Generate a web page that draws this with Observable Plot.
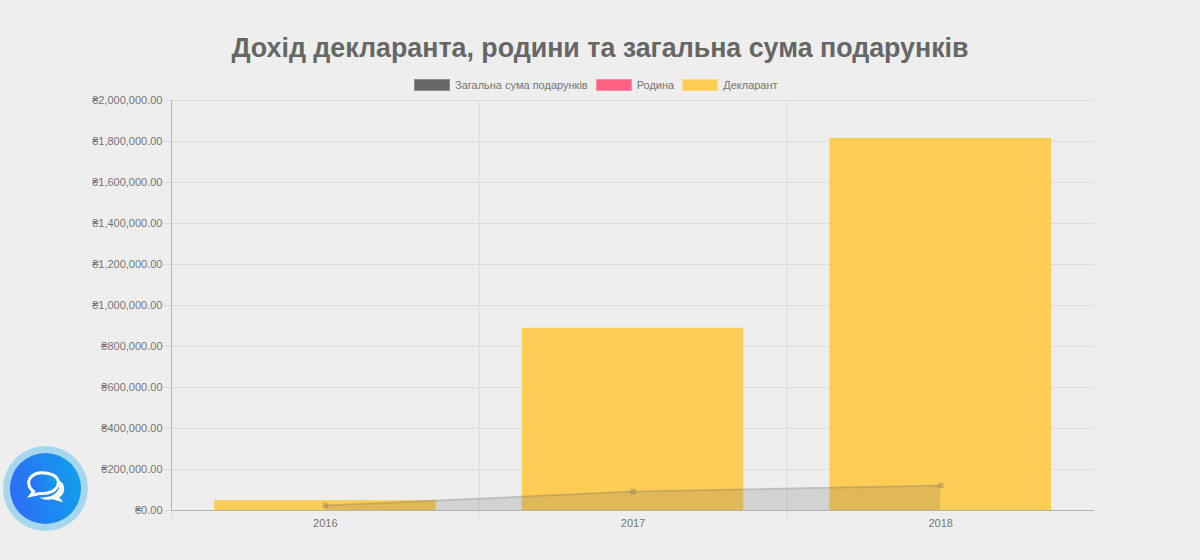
<!DOCTYPE html>
<html><head><meta charset="utf-8">
<script src="https://cdn.jsdelivr.net/npm/d3@7"></script>
<script src="https://cdn.jsdelivr.net/npm/@observablehq/plot@0.6"></script>
<style>
html,body{margin:0;padding:0;background:#eeeeee;width:1200px;height:560px;overflow:hidden;font-family:"Liberation Sans",Arial,sans-serif}
#title{position:absolute;left:0;top:32px;width:1200px;text-align:center;font-size:26.8px;font-weight:bold;color:#666;line-height:32px}
#legend{position:absolute;left:414px;top:77px;height:16px;display:flex;align-items:center;font-size:11px;color:#757575;white-space:nowrap}
#legend i{display:inline-block;width:36px;height:12px;margin-right:5px;box-sizing:border-box;border:1px solid rgba(255,255,255,.25)}
#legend span{margin-right:8px}
#chart{position:absolute;left:0;top:92px}
#chat{position:absolute;left:3px;top:446px}
</style></head>
<body>
<div id="title"></div>
<div id="legend"></div>
<div id="chart"></div>
<svg id="chat" width="85" height="85" viewBox="0 0 86 86">
<defs><linearGradient id="g" x1="0" x2="1" y1="0.3" y2="0.1"><stop offset="0" stop-color="#2b6ff6"/><stop offset="1" stop-color="#10a2ea"/></linearGradient></defs>
<circle cx="43" cy="43" r="43" fill="#a7d6ef"/>
<circle cx="43" cy="43" r="36" fill="url(#g)"/>
<path d="M52 33c6 2 10 5 10 10 0 4-2 7-5 9l4 5-11-3c-5 1-10 0-13-2 9 1 19-3 20-11 0-3-2-6-5-8z" fill="#fff"/>
<path d="M39 27c-8 0-13 5-13 10 0 4 2 7 5 9l-3 4 9-2c9 1 19-3 19-11 0-6-7-10-17-10z" fill="url(#g)" stroke="#fff" stroke-width="3"/>
</svg>
<script>
const titleText = "Дохід декларанта, родини та загальна сума подарунків";
const seriesNames = ["Загальна сума подарунків", "Родина", "Декларант"];
const seriesColors = ["#666666", "#ff6384", "#ffcd56"];
const years = [2016, 2017, 2018];
const declarant = [48000, 889000, 1815000];
const family = [0, 0, 0];
const gifts = [24000, 92500, 122000];
const yTicks = [0,200000,400000,600000,800000,1000000,1200000,1400000,1600000,1800000,2000000];
const xEdges = [2015.5, 2016.5, 2017.5, 2018.5];
const xLines = xEdges.slice(0, 3);
const barHalf = 0.36;

document.getElementById("title").textContent = titleText;
const leg = document.getElementById("legend");
seriesNames.forEach((n,k)=>{
  const i=document.createElement("i"); i.style.background=seriesColors[k]; leg.appendChild(i);
  const s=document.createElement("span"); s.textContent=n; leg.appendChild(s);
});

const rows = years.map((year,k)=>({year, declarant:declarant[k], family:family[k], gifts:gifts[k]}));
const money = v => "₴" + d3.format(",.2f")(v);
const gridColor = "#dcdcdc";

const plot = Plot.plot({
  width:1200, height:448,
  marginTop:8, marginBottom:30, marginLeft:171, marginRight:106,
  style:{background:"transparent", fontFamily:"'Liberation Sans',Arial,sans-serif", fontSize:"11px", color:"#757575"},
  x:{type:"linear", domain:[xEdges[0], xEdges[3]]},
  y:{domain:[0,2000000]},
  marks:[
    Plot.ruleY(yTicks,{y:d=>d, stroke:gridColor, strokeOpacity:1}),
    Plot.ruleX(xLines,{x:d=>d, stroke:gridColor, strokeOpacity:1}),
    Plot.axisX(xLines,{anchor:"bottom", tickSize:8, tickFormat:()=>"", stroke:gridColor, label:null}),
    Plot.axisX(years,{anchor:"bottom", tickSize:0, tickPadding:9, tickFormat:d=>String(d), label:null, fill:"#757575", fontSize:11}),
    Plot.axisY(yTicks,{anchor:"left", tickSize:8, tickPadding:1, tickFormat:money, label:null, fill:"#757575", stroke:gridColor, fontSize:11}),
    Plot.rectY(rows,{x1:d=>d.year-barHalf, x2:d=>d.year+barHalf, y:"declarant", fill:seriesColors[2]}),
    Plot.rectY(rows,{x1:d=>d.year-barHalf, x2:d=>d.year+barHalf, y:"family", fill:seriesColors[1]}),
    Plot.areaY(rows,{x:"year", y:"gifts", fill:"#666666", fillOpacity:0.2}),
    Plot.lineY(rows,{x:"year", y:"gifts", stroke:"#666666", strokeOpacity:0.2, strokeWidth:2}),
    Plot.dot(rows,{x:"year", y:"gifts", r:2.5, fill:"#666666", fillOpacity:0.2, stroke:"#666666", strokeOpacity:0.2}),
    Plot.ruleX([xEdges[0]],{stroke:"#b4b4b4"}),
    Plot.ruleY([0],{stroke:"#b4b4b4"})
  ]
});
document.getElementById("chart").appendChild(plot);
</script>
</body></html>
